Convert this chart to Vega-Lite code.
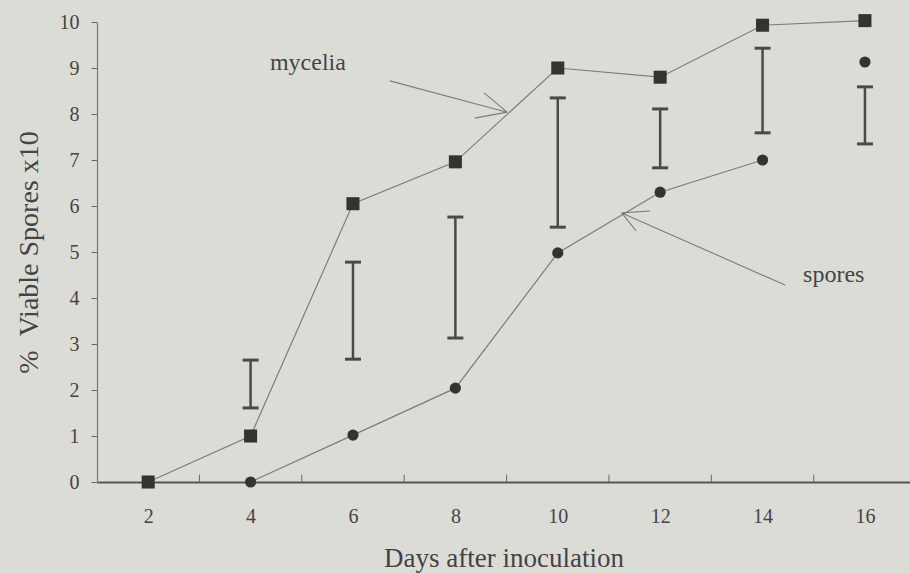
{
  "$schema": "https://vega.github.io/schema/vega-lite/v6.json",
  "width": 813,
  "height": 460,
  "autosize": {"type": "none"},
  "padding": {"left": 97, "top": 22, "right": 0, "bottom": 92},
  "background": "#dcdcd7",
  "config": {
    "view": {"stroke": null},
    "font": "Liberation Serif",
    "axisX": {
      "ticks": false, "tickSize": 0, "grid": false,
      "domainColor": "#555555", "domainWidth": 2,
      "labelFont": "Liberation Serif", "labelFontSize": 20, "labelColor": "#444444",
      "labelPadding": 24,
      "titleFont": "Liberation Serif", "titleFontSize": 27, "titleFontWeight": "normal",
      "titleColor": "#444444", "titlePadding": 19
    },
    "axisY": {
      "grid": false, "tickSize": 6, "tickColor": "#666666",
      "domainColor": "#777777", "domainWidth": 1.2,
      "labelFont": "Liberation Serif", "labelFontSize": 20, "labelColor": "#444444",
      "labelPadding": 12,
      "titleFont": "Liberation Serif", "titleFontSize": 28, "titleFontWeight": "normal",
      "titleColor": "#444444", "titlePadding": 16
    }
  },
  "datasets": {
    "series": [
      {"day": 2, "value": 0, "type": "mycelia"},
      {"day": 4, "value": 1.0, "type": "mycelia"},
      {"day": 6, "value": 6.05, "type": "mycelia"},
      {"day": 8, "value": 6.96, "type": "mycelia"},
      {"day": 10, "value": 9.0, "type": "mycelia"},
      {"day": 12, "value": 8.8, "type": "mycelia"},
      {"day": 14, "value": 9.93, "type": "mycelia"},
      {"day": 16, "value": 10.03, "type": "mycelia"},
      {"day": 4, "value": 0, "type": "spores"},
      {"day": 6, "value": 1.02, "type": "spores"},
      {"day": 8, "value": 2.04, "type": "spores"},
      {"day": 10, "value": 4.98, "type": "spores"},
      {"day": 12, "value": 6.3, "type": "spores"},
      {"day": 14, "value": 7.0, "type": "spores"},
      {"day": 16, "value": 9.13, "type": "spores"}
    ],
    "bars": [
      {"day": 4, "lo": 1.61, "hi": 2.65},
      {"day": 6, "lo": 2.67, "hi": 4.78},
      {"day": 8, "lo": 3.13, "hi": 5.76},
      {"day": 10, "lo": 5.54, "hi": 8.35},
      {"day": 12, "lo": 6.83, "hi": 8.11},
      {"day": 14, "lo": 7.59, "hi": 9.43},
      {"day": 16, "lo": 7.35, "hi": 8.59}
    ],
    "xticks": [
      {"day": 3}, {"day": 5}, {"day": 7}, {"day": 9}, {"day": 11}, {"day": 13}, {"day": 15}
    ],
    "arrows": [
      {"day": 6.72, "value": 8.72, "day2": 9.01, "value2": 8.04},
      {"day": 8.38, "value": 7.91, "day2": 9.01, "value2": 8.04},
      {"day": 8.56, "value": 8.46, "day2": 9.01, "value2": 8.04},
      {"day": 14.44, "value": 4.28, "day2": 11.25, "value2": 5.85},
      {"day": 11.8, "value": 5.89, "day2": 11.25, "value2": 5.85},
      {"day": 11.53, "value": 5.46, "day2": 11.25, "value2": 5.85}
    ],
    "labels": [
      {"day": 5.12, "value": 8.96, "text": "mycelia"},
      {"day": 15.39, "value": 4.35, "text": "spores"}
    ]
  },
  "encoding": {
    "x": {
      "type": "quantitative", "title": "Days after inoculation",
      "scale": {"domain": [1, 16.88], "nice": false, "zero": false},
      "axis": {"title": "Days after inoculation", "values": [2, 4, 6, 8, 10, 12, 14, 16]}
    },
    "y": {
      "type": "quantitative", "title": "%  Viable Spores x10",
      "scale": {"domain": [0, 10], "nice": false},
      "axis": {"title": "% \u00a0Viable Spores x10", "values": [0, 1, 2, 3, 4, 5, 6, 7, 8, 9, 10]}
    }
  },
  "layer": [
    {
      "data": {"name": "series"},
      "transform": [{"filter": "datum.type == 'mycelia' || datum.day <= 14"}],
      "mark": {"type": "line", "color": "#7c7c7c", "strokeWidth": 1.2},
      "encoding": {
        "x": {"field": "day"},
        "y": {"field": "value"},
        "detail": {"field": "type", "type": "nominal"}
      }
    },
    {
      "data": {"name": "series"},
      "transform": [{"filter": "datum.type == 'mycelia'"}],
      "mark": {"type": "point", "shape": "square", "filled": true, "color": "#333333", "size": 170, "opacity": 1},
      "encoding": {
        "x": {"field": "day"},
        "y": {"field": "value"}
      }
    },
    {
      "data": {"name": "series"},
      "transform": [{"filter": "datum.type == 'spores'"}],
      "mark": {"type": "point", "shape": "circle", "filled": true, "color": "#333333", "size": 125, "opacity": 1},
      "encoding": {
        "x": {"field": "day"},
        "y": {"field": "value"}
      }
    },
    {
      "data": {"name": "bars"},
      "mark": {"type": "rule", "color": "#4a4a4a", "strokeWidth": 2.5},
      "encoding": {
        "x": {"field": "day"},
        "y": {"field": "lo"},
        "y2": {"field": "hi"}
      }
    },
    {
      "data": {"name": "bars"},
      "mark": {"type": "tick", "orient": "horizontal", "color": "#4a4a4a", "size": 16, "thickness": 3, "opacity": 1},
      "encoding": {
        "x": {"field": "day"},
        "y": {"field": "lo"}
      }
    },
    {
      "data": {"name": "bars"},
      "mark": {"type": "tick", "orient": "horizontal", "color": "#4a4a4a", "size": 16, "thickness": 3, "opacity": 1},
      "encoding": {
        "x": {"field": "day"},
        "y": {"field": "hi"}
      }
    },
    {
      "data": {"name": "xticks"},
      "mark": {"type": "rule", "color": "#666666", "strokeWidth": 1},
      "encoding": {
        "x": {"field": "day"},
        "y": {"datum": 0},
        "y2": {"datum": 0.16}
      }
    },
    {
      "data": {"name": "arrows"},
      "mark": {"type": "rule", "color": "#7c7c7c", "strokeWidth": 1.1},
      "encoding": {
        "x": {"field": "day"},
        "y": {"field": "value"},
        "x2": {"field": "day2"},
        "y2": {"field": "value2"}
      }
    },
    {
      "data": {"name": "labels"},
      "mark": {"type": "text", "font": "Liberation Serif", "fontSize": 24, "color": "#444444", "align": "center", "baseline": "alphabetic"},
      "encoding": {
        "x": {"field": "day"},
        "y": {"field": "value"},
        "text": {"field": "text", "type": "nominal"}
      }
    }
  ]
}
